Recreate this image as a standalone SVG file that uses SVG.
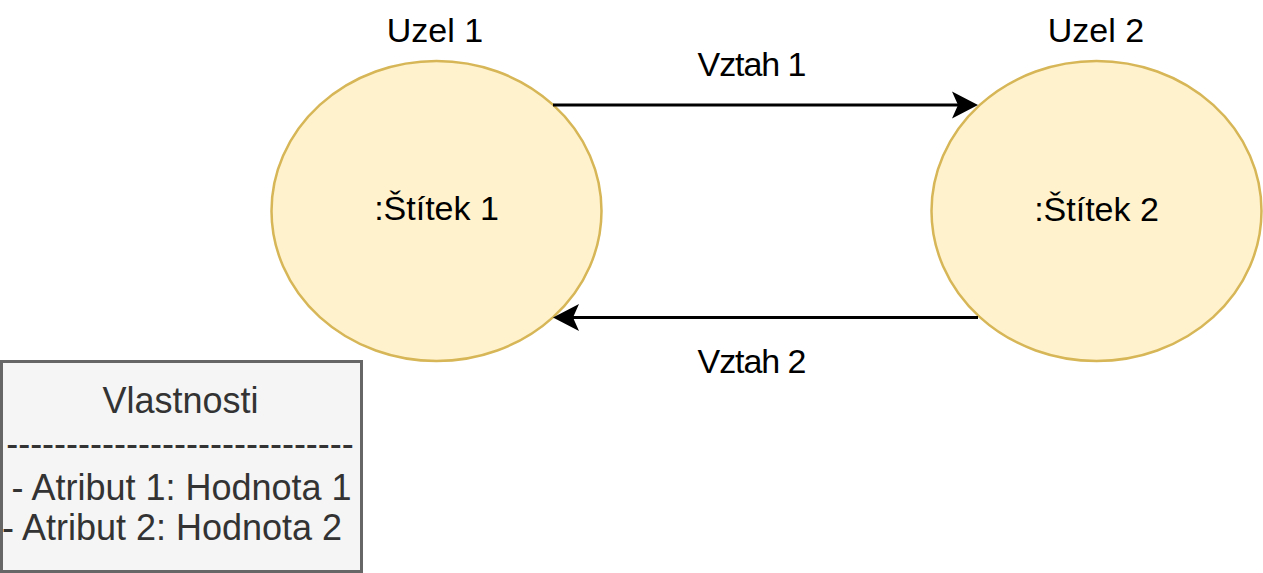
<svg xmlns="http://www.w3.org/2000/svg" width="1263" height="573" viewBox="0 0 1263 573">
  <style>
    text { font-family: "Liberation Sans", Arial, sans-serif; font-size: 34px; text-anchor: middle; fill: #000000; }
    .node { fill: #fff2cc; stroke: #d6b656; stroke-width: 2.5; }
    .box { fill: #f5f5f5; stroke: #666666; stroke-width: 3; }
    .boxtext { fill: #333333; font-size: 36px; }
    .edge { fill: none; stroke: #000000; stroke-width: 3; }
  </style>
  <defs>
    <marker id="arrow" markerUnits="userSpaceOnUse" markerWidth="28" markerHeight="30" viewBox="0 0 28 30" refX="18" refY="15" orient="auto">
      <path d="M26,15 L0,1.5 L6,15 L0,28.5 Z" fill="#000000"/>
    </marker>
  </defs>
  <rect width="1263" height="573" fill="#ffffff"/>
  <g id="node-uzel1">
    <ellipse class="node" cx="436.5" cy="211" rx="165" ry="150"/>
    <text x="436.5" y="220">:Štítek 1</text>
    <text x="435" y="41.5">Uzel 1</text>
  </g>
  <g id="node-uzel2">
    <ellipse class="node" cx="1096.5" cy="211" rx="165" ry="150"/>
    <text x="1096.5" y="221">:Štítek 2</text>
    <text x="1096" y="41.5">Uzel 2</text>
  </g>
  <g id="node-vlastnosti">
    <rect class="box" x="1.5" y="361.5" width="360" height="210"/>
    <text class="boxtext" x="180.5" y="413">Vlastnosti</text>
    <text class="boxtext" x="180" y="456">-----------------------------</text>
    <text class="boxtext" x="181.5" y="500">- Atribut 1: Hodnota 1</text>
    <text class="boxtext" x="172" y="540">- Atribut 2: Hodnota 2</text>
  </g>
  <g id="connectors">
    <g id="edge-vztah1">
      <line class="edge" x1="553" y1="105" x2="970" y2="105" marker-end="url(#arrow)"/>
      <text x="752" y="75.5" textLength="109" lengthAdjust="spacing">Vztah 1</text>
    </g>
    <g id="edge-vztah2">
      <line class="edge" x1="978" y1="317.5" x2="561" y2="317.5" marker-end="url(#arrow)"/>
      <text x="752" y="373" textLength="109" lengthAdjust="spacing">Vztah 2</text>
    </g>
  </g>
</svg>
